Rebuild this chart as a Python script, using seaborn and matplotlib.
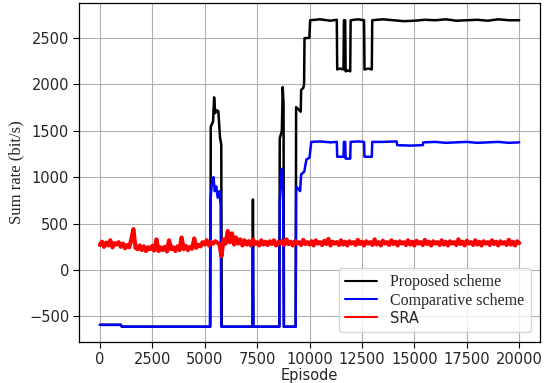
import numpy as np
import pandas as pd
import seaborn as sns
import matplotlib
matplotlib.use("Agg")
import matplotlib.pyplot as plt

# ---- data ----
ep_proposed = [0, 1000, 1050, 5270, 5290, 5400, 5450, 5500, 5570, 5650, 5730, 5790, 5815,
               7280, 7300, 7320, 8560, 8580, 8680, 8720, 8760, 8780,
               9340, 9360, 9580, 9600, 9700, 9740, 9760, 9990, 10030,
               10500, 11000, 11300, 11320, 11450, 11620, 11640, 11700, 11720, 11820, 11940, 11960,
               12300, 12600, 12620, 12800, 12970, 12990,
               13500, 14000, 14500, 15000, 15500, 16000, 16500, 17000, 17500, 18000, 18500,
               19000, 19500, 20000]
rate_proposed = [-590, -590, -610, -610, 1545, 1600, 1860, 1690, 1720, 1710, 1430, 1350, -610,
                 -610, 760, -610, -610, 1420, 1500, 1970, 1800, -610,
                 -610, 1755, 1705, 1940, 1960, 2000, 2497, 2500, 2690,
                 2700, 2685, 2695, 2160, 2170, 2160, 2690, 2690, 2140, 2150, 2140, 2690,
                 2700, 2690, 2160, 2170, 2160, 2690,
                 2700, 2690, 2680, 2685, 2695, 2690, 2700, 2685, 2690, 2695, 2685,
                 2700, 2690, 2690]

ep_comparative = [0, 1000, 1050, 5250, 5270, 5350, 5420, 5480, 5550, 5620, 5700, 5760, 5790,
                  7280, 7300, 7320, 8560, 8580, 8680, 8740, 8770,
                  9340, 9360, 9550, 9600, 9750, 9850, 10000, 10080,
                  10500, 11000, 11300, 11320, 11620, 11640, 11700, 11720, 11940, 11960,
                  12300, 12600, 12620, 12970, 12990,
                  13500, 14150, 14180, 14800, 15400, 15430, 16000, 16500, 17000, 17500,
                  18000, 18500, 19000, 19500, 20000]
rate_comparative = [-590, -590, -610, -610, 750, 950, 1000, 850, 900, 780, 850, 700, -610,
                    -610, 270, -610, -610, 750, 1090, 900, -610,
                    -610, 900, 850, 1030, 1060, 1190, 1210, 1380,
                    1385, 1375, 1380, 1220, 1220, 1380, 1380, 1200, 1200, 1380,
                    1385, 1380, 1220, 1220, 1380,
                    1380, 1385, 1345, 1340, 1345, 1375, 1380, 1370, 1375, 1380,
                    1370, 1375, 1380, 1370, 1375]

# SRA sampled every 100 episodes
ep_sra = np.arange(0, 20001, 100)
rate_sra = [
    270, 305, 250, 295, 265, 320, 245, 290, 275, 300, 250, 285, 235, 270, 245, 330, 440, 240, 225, 265,
    215, 255, 205, 245, 225, 260, 210, 330, 205, 245, 215, 250, 200, 320, 225, 245, 205, 255, 215, 350,
    225, 260, 215, 250, 230, 340, 240, 270, 255, 300, 275, 320, 265, 300, 285, 310, 295, 280, 150, 330,
    285, 420, 300, 395, 275, 350, 285, 330, 265, 320, 275, 310, 265, 330, 280, 300, 265, 320, 275, 305,
    270, 310, 280, 320, 265, 300, 285, 315, 270, 330, 280, 305, 265, 310, 285, 300, 270, 325, 280, 300,
    275, 310, 265, 320, 285, 300, 270, 315, 280, 335, 265, 305, 285, 300, 270, 320, 275, 305, 265, 310,
    285, 300, 270, 325, 280, 305, 265, 310, 285, 300, 270, 330, 275, 300, 265, 315, 285, 300, 270, 320,
    280, 305, 265, 310, 285, 300, 270, 320, 275, 305, 265, 315, 285, 300, 270, 325, 280, 305, 265, 310,
    285, 300, 270, 320, 275, 305, 265, 310, 285, 300, 270, 330, 280, 305, 265, 315, 285, 300, 270, 320,
    275, 305, 265, 310, 285, 300, 270, 320, 280, 305, 265, 310, 285, 300, 270, 325, 275, 305, 265, 310, 290,
]

sns.set_style("ticks")
plt.rcParams["font.family"] = ["DejaVu Sans"]

fig = plt.figure(figsize=(5.44, 3.83), dpi=100)
ax = fig.add_axes([0.145, 0.107, 0.848, 0.885])

sns.lineplot(x=ep_proposed, y=rate_proposed, color="black", lw=1.8,
             estimator=None, label="Proposed scheme", ax=ax)
sns.lineplot(x=ep_comparative, y=rate_comparative, color="#0000ff", lw=1.8,
             estimator=None, label="Comparative scheme", ax=ax)
sns.lineplot(x=ep_sra, y=rate_sra, color="#ff0000", lw=3.0,
             estimator=None, label="SRA", ax=ax)

ax.set_xlim(-1000, 21000)
ax.set_ylim(-775, 2875)
ax.set_xticks([0, 2500, 5000, 7500, 10000, 12500, 15000, 17500, 20000])
ax.set_yticks([-500, 0, 500, 1000, 1500, 2000, 2500])
ax.grid(True, color="#b0b0b0", lw=0.8)
ax.tick_params(labelsize=10.5, length=4, width=0.8, color="black", pad=3)
for s in ax.spines.values():
    s.set_color("black")
    s.set_linewidth(0.9)

ax.set_xlabel("Episode", fontsize=10.5, labelpad=1)
ax.set_ylabel("Sum rate (bit/s)", fontsize=12, family="Liberation Serif", labelpad=3)

leg = ax.legend(loc="lower right", fontsize=11.5, labelspacing=0.15, borderaxespad=0.6,
                handlelength=2.0, fancybox=True, framealpha=0.8, edgecolor="#cccccc")
fonts = ["Liberation Serif", "Liberation Serif", "DejaVu Sans"]
for t, f in zip(leg.get_texts(), fonts):
    t.set_family(f)
leg.get_texts()[2].set_fontsize(10.5)
for h in leg.get_lines():
    h.set_linewidth(1.5)

fig.savefig("out.png", dpi=100)
